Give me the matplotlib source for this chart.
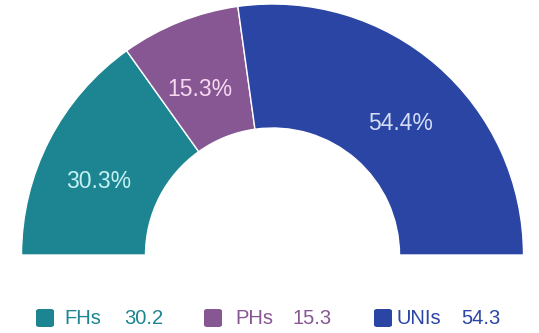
import matplotlib
matplotlib.use('Agg')
import matplotlib.pyplot as plt
from matplotlib.patches import Wedge, FancyBboxPatch
import numpy as np

plt.rcParams['font.family'] = ['Liberation Sans', 'DejaVu Sans']

labels = ['FHs', 'PHs', 'UNIs']
values = [30.2, 15.3, 54.3]
colors = ['#1c8591', '#865792', '#2a45a3']
text_colors = ['#c4f1f3', '#f6d8f1', '#d3ddf8']

total = sum(values)
W, H = 539, 333
fig = plt.figure(figsize=(W / 100, H / 100), dpi=100)

# centre and outer radius of the half ring, in pixels
cx, cy = 272.5, 78.0
r = 251.0

ax = fig.add_axes([0, 0, 1, 1])
ax.set_xlim(-cx / r, (W - cx) / r)
ax.set_ylim(-cy / r, (H - cy) / r)
ax.axis('off')

start = 180.0
for lab, val, col, tcol in zip(labels, values, colors, text_colors):
    span = val / total * 180.0
    end = start - span
    ax.add_patch(Wedge((0, 0), 1.0, end, start, width=0.494,
                       facecolor=col, edgecolor='white', linewidth=1.0))
    mid = np.radians((start + end) / 2)
    ax.text(0.78 * np.cos(mid), 0.78 * np.sin(mid) - 0.064,
            '%.1f%%' % (val / total * 100), color=tcol, fontsize=16.5,
            ha='center', va='center')
    start = end

# legend along the bottom
sq_x = [36, 204, 374]
name_x = [64, 235, 397]
num_x = [124, 292, 461]
ly = 15.0
for i, (lab, val, col) in enumerate(zip(labels, values, colors)):
    fig.patches.append(FancyBboxPatch((sq_x[i] / W, (ly - 9) / H), 18 / W, 18 / H,
                                      boxstyle='round,pad=0,rounding_size=0.006',
                                      transform=fig.transFigure, facecolor=col,
                                      edgecolor='none'))
    fig.text(name_x[i] / W, ly / H, lab, color=col, fontsize=14.5,
             ha='left', va='center')
    fig.text(num_x[i] / W, ly / H, '%.1f' % val, color=col, fontsize=14.5,
             ha='left', va='center')

fig.savefig('out.png', dpi=100)
